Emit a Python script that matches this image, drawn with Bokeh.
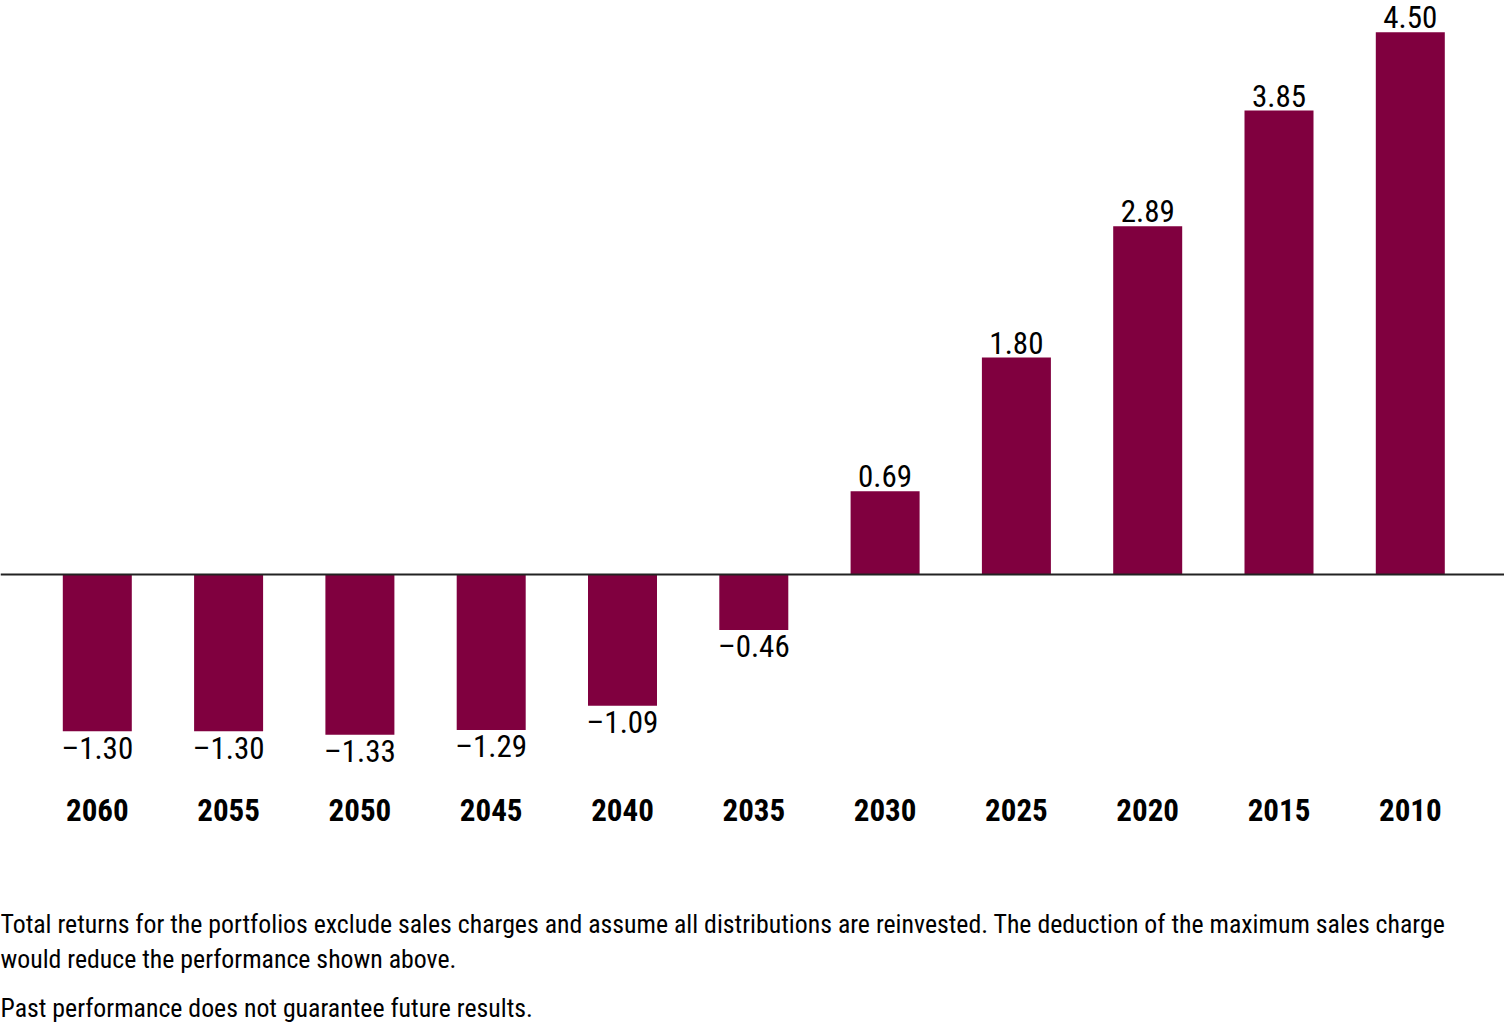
import numpy as np
from bokeh.plotting import figure
from bokeh.models import Range1d, Span, ColumnDataSource
from bokeh.core.properties import value
from bokeh.embed import file_html
from bokeh.resources import INLINE

# ---- data ----
years = ["2060", "2055", "2050", "2045", "2040", "2035", "2030", "2025", "2020", "2015", "2010"]
returns = [-1.30, -1.30, -1.33, -1.29, -1.09, -0.46, 0.69, 1.80, 2.89, 3.85, 4.50]
footnotes = [
    "Total returns for the portfolios exclude sales charges and assume all distributions are reinvested. The deduction of the maximum sales charge",
    "would reduce the performance shown above.",
    "Past performance does not guarantee future results.",
]

# ---- layout constants (pixels) ----
W, H = 1504, 1025
ZERO_PX = 574.0        # pixel row of the zero line
PX_PER_UNIT = 120.5    # pixels per percentage point
FIRST_X_PX = 96.8      # centre of first bar
STEP_PX = 131.3        # spacing between bars
BAR_W_PX = 69.0

def y_at(px):
    return (ZERO_PX - px) / PX_PER_UNIT

x_start = -FIRST_X_PX / STEP_PX
x_end = (W - FIRST_X_PX) / STEP_PX

FONT = "Roboto Condensed"
BAR_COLOR = "#80003F"

p = figure(width=W, height=H, output_backend="svg", toolbar_location=None,
           x_range=Range1d(x_start, x_end), y_range=Range1d(y_at(H), y_at(0)),
           min_border=0, min_border_left=0, min_border_right=0,
           min_border_top=0, min_border_bottom=0)
p.axis.visible = False
p.grid.visible = False
p.outline_line_color = None
p.background_fill_color = "white"
p.border_fill_color = "white"

xs = np.arange(len(years))
labels = [("\u2013%.2f" % abs(v)) if v < 0 else ("%.2f" % v) for v in returns]
src = ColumnDataSource(dict(x=xs, top=returns, year=years, label=labels))

p.vbar(x="x", top="top", bottom=0, width=BAR_W_PX / STEP_PX, source=src,
       fill_color=BAR_COLOR, line_color=None)

p.add_layout(Span(location=0, dimension="width", line_color="#222222", line_width=2))

pos = ColumnDataSource(dict(x=[x for x, v in zip(xs, returns) if v >= 0],
                            y=[v for v in returns if v >= 0],
                            t=[l for l, v in zip(labels, returns) if v >= 0]))
neg = ColumnDataSource(dict(x=[x for x, v in zip(xs, returns) if v < 0],
                            y=[v for v in returns if v < 0],
                            t=[l for l, v in zip(labels, returns) if v < 0]))

p.text(x="x", y="y", text="t", source=pos, text_align="center", text_baseline="middle",
       y_offset=-15, text_font=value(FONT), text_font_size="31px", text_color="black")
p.text(x="x", y="y", text="t", source=neg, text_align="center", text_baseline="middle",
       y_offset=17, text_font=value(FONT), text_font_size="31px", text_color="black")

# year labels
p.text(x="x", y=y_at(809), text="year", source=src, text_align="center",
       text_baseline="middle", text_font=value(FONT), text_font_style="bold",
       text_font_size="31px", text_color="black")

# footnotes
for line, mid_px in zip(footnotes, [923.5, 958, 1007]):
    p.text(x=[x_start], y=[y_at(mid_px)], text=[line], text_align="left",
           text_baseline="middle", text_font=value(FONT), text_font_size="25.8px",
           text_color="black")

open("out.html", "w").write(file_html(p, INLINE))
